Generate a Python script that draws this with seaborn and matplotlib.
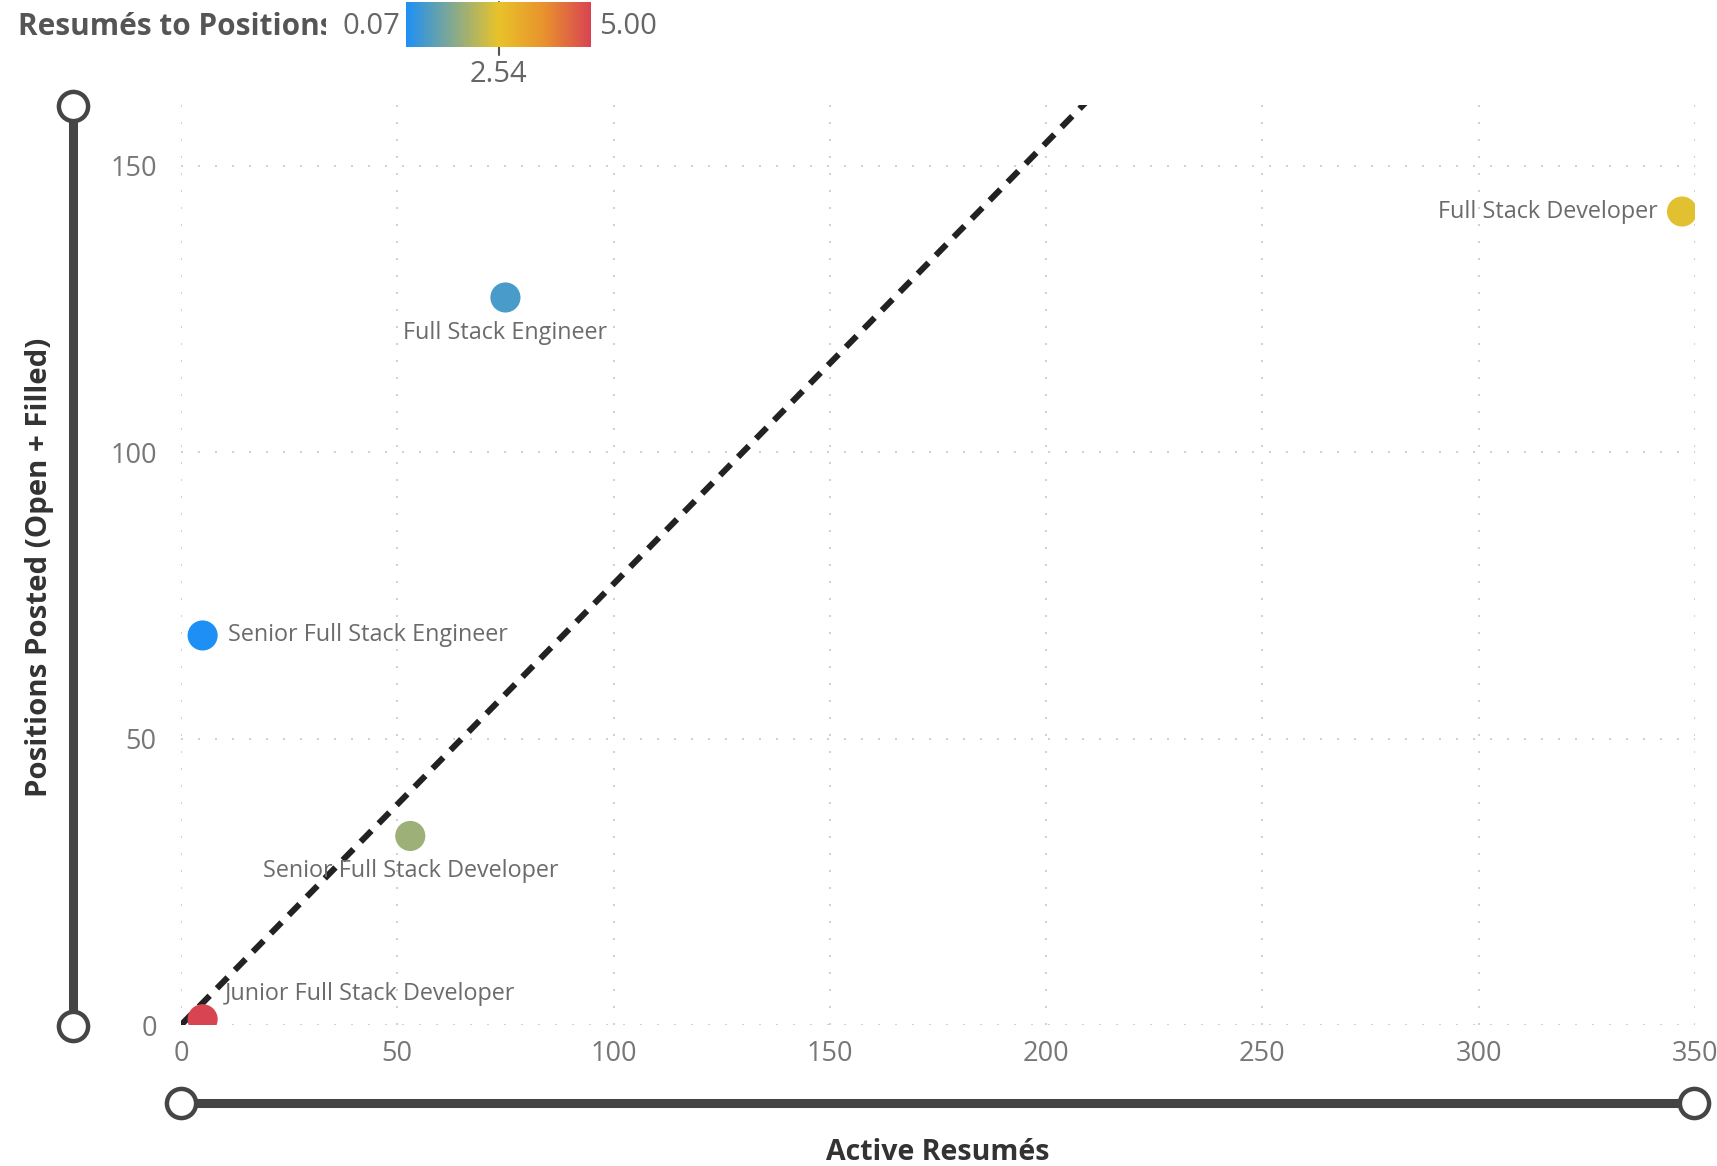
import numpy as np
import pandas as pd
import matplotlib
matplotlib.use("Agg")
import matplotlib.pyplot as plt
from matplotlib.colors import LinearSegmentedColormap, Normalize
import seaborn as sns

# ---- data ----
roles = ["Full Stack Developer", "Full Stack Engineer", "Senior Full Stack Engineer",
         "Senior Full Stack Developer", "Junior Full Stack Developer"]
active_resumes = [347, 75, 5, 53, 5]
positions_posted = [142, 127, 68, 33, 1]
ratio_min, ratio_mid, ratio_max = 0.07, 2.54, 5.00
x_ticks = [0, 50, 100, 150, 200, 250, 300, 350]
y_ticks = [0, 50, 100, 150]
ref_slope = 0.77

df = pd.DataFrame({"role": roles, "resumes": active_resumes, "positions": positions_posted})
df["ratio"] = df["resumes"] / df["positions"]

W, H = 1717, 1166
sns.set_theme(style="white")
FONT = ["Open Sans", "DejaVu Sans"]
plt.rcParams["font.family"] = FONT

cmap = LinearSegmentedColormap.from_list(
    "pbi", [(0.0, "#1E90F5"), (0.5, "#E9C32A"), (0.75, "#E8922E"), (1.0, "#D94452")])

fig = plt.figure(figsize=(W / 100, H / 100), dpi=100)
fig.patch.set_facecolor("white")

def fx(px):
    return px / W

def fy(py):
    return 1 - py / H

L, R, T, B = 181, 1695, 105, 1025
ax = fig.add_axes([fx(L), fy(B), fx(R - L), (B - T) / H])
ax.set_xlim(0, 350)
ax.set_ylim(0, 160.6)

for s in ax.spines.values():
    s.set_visible(False)

grid_kw = dict(color="#c8c8c8", lw=1.2, linestyle=(0, (1.2, 9)), zorder=0)
for xv in x_ticks:
    ax.axvline(xv, **grid_kw)
for yv in y_ticks:
    ax.axhline(yv, **grid_kw)

# reference line
xs = np.array([0, 350])
ax.plot(xs, ref_slope * xs, color="#222222", lw=4.4, linestyle=(0, (2.5, 1.7)), zorder=2,
        solid_capstyle="butt", dash_capstyle="butt")

sns.scatterplot(data=df, x="resumes", y="positions", hue="ratio", palette=cmap,
                hue_norm=(ratio_min, ratio_max), s=470, edgecolor="none",
                legend=False, ax=ax, zorder=3)

offsets = {
    "Full Stack Developer": ((-24, 0), "right"),
    "Full Stack Engineer": ((0, -36), "center"),
    "Senior Full Stack Engineer": ((25, 0), "left"),
    "Senior Full Stack Developer": ((0, -35), "center"),
    "Junior Full Stack Developer": ((22, 25), "left"),
}
for _, row in df.iterrows():
    (dx, dy), ha = offsets[row["role"]]
    ax.annotate(row["role"], (row["resumes"], row["positions"]), xytext=(dx, dy),
                textcoords="offset pixels", ha=ha, va="center", fontsize=16.8,
                color="#6b6b6b", zorder=4, annotation_clip=False)

ax.set_xticks(x_ticks)
ax.set_yticks(y_ticks)
ax.set_xticklabels([str(v) for v in x_ticks])
ax.set_yticklabels([str(v) for v in y_ticks])
ax.tick_params(axis="x", length=0, pad=10.5, labelsize=19.5, labelcolor="#777777")
ax.tick_params(axis="y", length=0, pad=17.5, labelsize=19.5, labelcolor="#777777")
ax.set_xlabel("")
ax.set_ylabel("")

# axis titles
fig.text(fx(938), fy(1152), "Active Resumés", ha="center", va="center",
         fontsize=20.5, fontweight="bold", color="#333333")
fig.text(fx(40), fy(567), "Positions Posted (Open + Filled)", ha="center", va="center",
         rotation=90, fontsize=21.2, fontweight="bold", color="#333333")

# overlay for sliders
ov = fig.add_axes([0, 0, 1, 1], zorder=5)
ov.set_xlim(0, W)
ov.set_ylim(H, 0)
ov.axis("off")
ov.patch.set_alpha(0)
sl_col = "#454545"
ov.plot([73, 73], [106, 1026], color=sl_col, lw=6.5, solid_capstyle="butt")
ov.plot([181, 1694], [1103, 1103], color=sl_col, lw=6.5, solid_capstyle="butt")
for (cx, cy) in [(73, 106), (73, 1026), (181, 1103), (1694, 1103)]:
    ov.plot(cx, cy, marker="o", ms=21, mfc="white", mec=sl_col, mew=3.2)

# legend title (clipped)
tax = fig.add_axes([0, fy(55), fx(326), 55 / H], zorder=6)
tax.set_xlim(0, 326)
tax.set_ylim(55, 0)
tax.axis("off")
tax.text(18, 27, "Resumés to Positions", ha="left", va="center", fontsize=21.4,
         fontweight="bold", color="#555555", clip_on=True)

fig.text(fx(400), fy(27), f"{ratio_min:.2f}", ha="right", va="center", fontsize=21, color="#666666")
fig.text(fx(599), fy(27), f"{ratio_max:.2f}", ha="left", va="center", fontsize=21, color="#666666")

cax = fig.add_axes([fx(406), fy(47), fx(185), 45 / H], zorder=6)
grad = np.linspace(ratio_min, ratio_max, 256).reshape(1, -1)
cax.imshow(grad, aspect="auto", cmap=cmap, norm=Normalize(ratio_min, ratio_max),
           extent=(ratio_min, ratio_max, 0, 1))
cax.set_xlim(ratio_min, ratio_max)
cax.axis("off")
ov.plot([498.5, 498.5], [2, 55], color="#555555", lw=1.5)
fig.text(fx(498.5), fy(75), f"{ratio_mid:.2f}", ha="center", va="center", fontsize=21, color="#666666")

fig.savefig("out.png", dpi=100, facecolor="white")
